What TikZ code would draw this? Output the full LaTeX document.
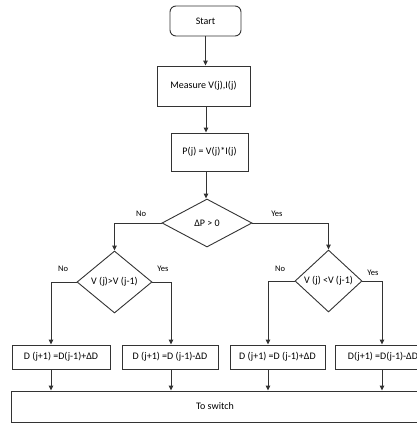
\documentclass[tikz,border=0pt]{standalone}
\usepackage{fontspec}
\setmainfont{Carlito}
\usetikzlibrary{arrows.meta,shapes.geometric}
\tikzset{
  shp/.style={draw=black!80, line width=0.9pt, inner sep=0pt},
  box/.style={shp, rectangle},
  rbox/.style={shp, rectangle, rounded corners=6pt},
  dia/.style={shp, diamond},
  lbl/.style={inner sep=0pt, font=\fontsize{8.5}{10}\selectfont},
  conn/.style={draw=black!80, line width=0.9pt},
  arr/.style={conn, -{Triangle[length=5pt,width=4.5pt]}}
}
\begin{document}
\begin{tikzpicture}[x=1pt,y=-1pt, font=\fontsize{10}{12}\selectfont]
\useasboundingbox (0,0) rectangle (416,423);
\node[rbox, minimum width=71, minimum height=30] (start) at (205.5,21) {Start};
\node[box, minimum width=93, minimum height=40] (meas) at (203.5,86) {Measure V(j),I(j)};
\node[box, minimum width=77, minimum height=38] (pj) at (209.5,152) {P(j) = V(j)*I(j)};
\node[dia, minimum width=90, minimum height=48] (d0) at (207,223) {};
\node at (d0.center) {ΔP > 0};
\node[dia, minimum width=75, minimum height=62] (d1) at (114.5,282) {};
\node at (d1.center) {V (j)>V (j-1)};
\node[dia, minimum width=67, minimum height=62] (d2) at (328.5,281) {};
\node at (d2.center) {V (j) <V (j-1)};
\node[box, minimum width=98, minimum height=24] (b1) at (61,357) {D (j+1) =D(j-1)+ΔD};
\node[box, minimum width=96, minimum height=24] (b2) at (170,357) {D (j+1) =D (j-1)-ΔD};
\node[box, minimum width=95, minimum height=24] (b3) at (277.5,357) {D (j+1) =D (j-1)+ΔD};
\node[box, minimum width=96, minimum height=24] (b4) at (383,357) {D(j+1) =D(j-1)-ΔD};
\node[box, minimum width=408, minimum height=31] (sw) at (215,406.5) {To switch};
\coordinate (c1) at (51,0);
\coordinate (c2) at (171,0);
\coordinate (c3) at (268,0);
\coordinate (c4) at (382,0);
\draw[arr] (start.south) -- (start.south |- meas.north);
\draw[arr] (meas.south -| 206,0) -- (pj.north -| 206,0);
\draw[arr] (pj.south -| 206,0) -- (d0.north -| 206,0);
\draw[arr] (d0.west) -| (d1.north);
\draw[arr] (d0.east) -| (d2.north);
\draw[arr] (d1.west) -| (c1 |- b1.north);
\draw[arr] (d1.east) -| (c2 |- b2.north);
\draw[arr] (d2.west) -| (c3 |- b3.north);
\draw[arr] (d2.east) -| (c4 |- b4.north);
\draw[arr] (c1 |- b1.south) -- (c1 |- sw.north);
\draw[arr] (c2 |- b2.south) -- (c2 |- sw.north);
\draw[arr] (c3 |- b3.south) -- (c3 |- sw.north);
\draw[arr] (c4 |- b4.south) -- (c4 |- sw.north);
\node[lbl] (n0) at (141,214) {No};
\node[lbl] (y0) at (277,214) {Yes};
\node[lbl] (n1) at (63,269) {No};
\node[lbl] (y1) at (163,269) {Yes};
\node[lbl] (n2) at (280,269) {No};
\node[lbl] (y2) at (373,273) {Yes};
\end{tikzpicture}
\end{document}
